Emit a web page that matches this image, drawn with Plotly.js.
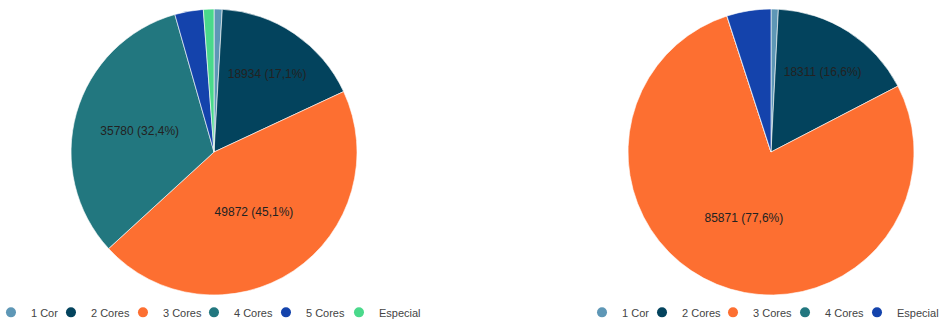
<!DOCTYPE html>
<html>
<head>
<meta charset="utf-8">
<script src="https://cdn.plot.ly/plotly-3.0.1.min.js"></script>
<style>html,body{margin:0;padding:0;background:#fff;}#chart{width:941px;height:323px;}</style>
</head>
<body>
<div id="chart"></div>
<script>
const categories1 = ['1 Cor', '2 Cores', '3 Cores', '4 Cores', '5 Cores', 'Especial'];
const values1 = [1015, 18934, 49872, 35780, 3560, 1320];
const colors1 = ['#5e97b6', '#03435d', '#fd6f31', '#22777f', '#1443ac', '#4ad98b'];

const categories2 = ['1 Cor', '2 Cores', '3 Cores', '4 Cores', 'Especial'];
const values2 = [910, 18311, 85871, 0, 5518];
const colors2 = ['#5e97b6', '#03435d', '#fd6f31', '#22777f', '#1443ac'];

// legend entry widths (style only)
const legendWidths1 = [15, 27, 26, 27, 28, 44];
const legendWidths2 = [15, 26, 27, 27, 42];

const FONT = 'Liberation Sans, Arial, sans-serif';

function labelsFor(vals) {
  const total = vals.reduce((a, b) => a + b, 0);
  return vals.map(v => {
    const p = v / total * 100;
    if (p < 5) return '';
    return v + ' (' + p.toFixed(1).replace('.', ',') + '%)';
  });
}

function pieTrace(cats, vals, cols, dom) {
  return {
    type: 'pie',
    labels: cats,
    values: vals,
    text: labelsFor(vals),
    textinfo: 'text',
    textposition: 'inside',
    insidetextorientation: 'horizontal',
    insidetextfont: {family: FONT, size: 12, color: '#222'},
    marker: {colors: cols, line: {color: '#ffffff', width: 0.6}},
    sort: false,
    direction: 'clockwise',
    rotation: 0,
    hoverinfo: 'skip',
    showlegend: false,
    domain: dom
  };
}

const traces = [
  pieTrace(categories1, values1, colors1, {x: [0.0755, 0.3794], y: [0.0867, 0.9721]}),
  pieTrace(categories2, values2, colors2, {x: [0.6674, 0.9713], y: [0.0867, 0.9721]})
];

categories1.forEach((c, i) => traces.push({
  type: 'scatter', mode: 'markers', x: [null], y: [null], name: c,
  marker: {color: colors1[i], size: 10, symbol: 'circle'},
  legend: 'legend', legendwidth: legendWidths1[i], showlegend: true, hoverinfo: 'skip'
}));
categories2.forEach((c, i) => traces.push({
  type: 'scatter', mode: 'markers', x: [null], y: [null], name: c,
  marker: {color: colors2[i], size: 10, symbol: 'circle'},
  legend: 'legend2', legendwidth: legendWidths2[i], showlegend: true, hoverinfo: 'skip'
}));

const legendBase = {
  orientation: 'h', yanchor: 'middle', y: 0.033,
  font: {family: FONT, size: 11, color: '#444'},
  bgcolor: 'rgba(0,0,0,0)', itemclick: false, itemdoubleclick: false,
  tracegroupgap: 0
};

const layout = {
  width: 941, height: 323,
  margin: {l: 0, r: 0, t: 0, b: 0, autoexpand: false},
  paper_bgcolor: '#fff', plot_bgcolor: '#fff',
  font: {family: FONT},
  xaxis: {visible: false, fixedrange: true},
  yaxis: {visible: false, fixedrange: true},
  legend: Object.assign({}, legendBase, {x: -0.0096, xanchor: 'left'}),
  legend2: Object.assign({}, legendBase, {x: 0.6185, xanchor: 'left'}),
  showlegend: true
};

Plotly.newPlot('chart', traces, layout, {displayModeBar: false, staticPlot: true});
</script>
</body>
</html>
